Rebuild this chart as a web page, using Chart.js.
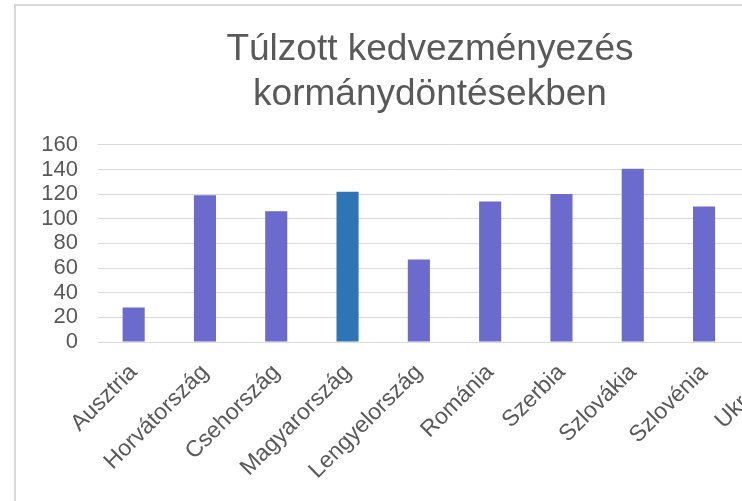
<!DOCTYPE html>
<html>
<head>
<meta charset="utf-8">
<script src="https://cdn.jsdelivr.net/npm/chart.js@4/dist/chart.umd.min.js"></script>
<style>
    html, body { margin: 0; padding: 0; background: #fff; overflow: hidden; width: 742px; height: 501px; }
    #moldura { position: absolute; left: 14px; top: 4px; width: 832px; height: 520px; border: 2px solid #d9d9d9; }
</style>
</head>
<body>
<div id="moldura"><canvas id="graficoKedvezmeny"></canvas></div>
<script>
var orszagok = ['Ausztria', 'Horvátország', 'Csehország', 'Magyarország', 'Lengyelország', 'Románia', 'Szerbia', 'Szlovákia', 'Szlovénia', 'Ukrajna'];
var ertekek = [28, 119, 106, 122, 67, 114, 120, 140.5, 110, 100];
var tengelyMin = 0;
var tengelyMax = 160;
var tengelyLepes = 20;
var cim = ['Túlzott kedvezményezés', 'kormánydöntésekben'];

var Grafico = Grafico || {};

Grafico.Fonte = 'Liberation Sans, Arial, sans-serif';

Grafico.CorBarra = function (pais) {
    // Magyarország kiemelve
    return pais === 'Magyarország' ? '#2e75b6' : '#6b6bcd';
};

Grafico.Desenhar = function () {
    var ctx = document.getElementById('graficoKedvezmeny').getContext('2d');

    return new Chart(ctx, {
        type: 'bar',
        data: {
            labels: orszagok,
            datasets: [{
                data: ertekek,
                backgroundColor: orszagok.map(Grafico.CorBarra),
                categoryPercentage: 1,
                barPercentage: 0.31
            }]
        },
        options: {
            responsive: true,
            maintainAspectRatio: false,
            animation: false,
            layout: { padding: { left: 0, right: 4, top: 0, bottom: 0 } },
            plugins: {
                legend: { display: false },
                tooltip: { enabled: false },
                title: {
                    display: true,
                    text: cim,
                    color: '#595959',
                    font: { family: Grafico.Fonte, size: 37, weight: 'normal', lineHeight: 1.2 },
                    padding: { top: 22, bottom: 28 }
                }
            },
            scales: {
                x: {
                    grid: { display: false },
                    border: { color: '#d9d9d9', width: 1 },
                    ticks: {
                        color: '#595959',
                        font: { family: Grafico.Fonte, size: 23 },
                        minRotation: 45,
                        maxRotation: 45,
                        autoSkip: false,
                        padding: 9
                    },
                    afterFit: function (scale) { scale.height = 184; }
                },
                y: {
                    min: tengelyMin,
                    max: tengelyMax,
                    grid: { color: '#d9d9d9', lineWidth: 1, drawTicks: false },
                    border: { display: false },
                    ticks: {
                        stepSize: tengelyLepes,
                        autoSkip: false,
                        color: '#595959',
                        font: { family: Grafico.Fonte, size: 22 },
                        padding: 20
                    },
                    afterFit: function (scale) { scale.width = 82; }
                },
                // ures jobb oldali sav, hogy a cim kozepen maradjon
                jobb: {
                    type: 'linear',
                    position: 'right',
                    min: tengelyMin,
                    max: tengelyMax,
                    grid: { display: false },
                    border: { display: false },
                    ticks: { display: false },
                    afterFit: function (scale) { scale.width = 33; }
                }
            }
        }
    });
};

Grafico.Desenhar();
</script>
</body>
</html>
